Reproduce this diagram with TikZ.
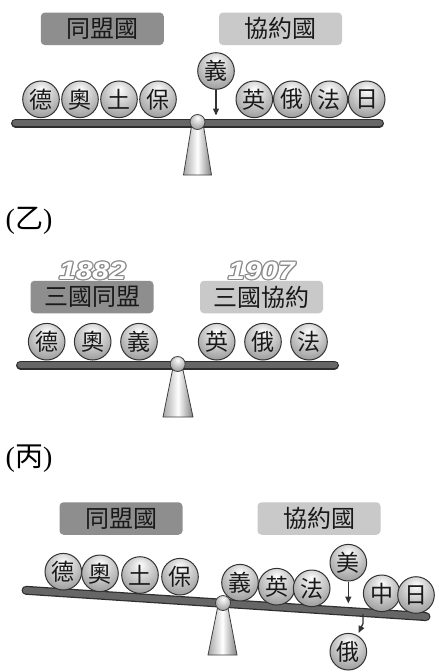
\documentclass[tikz,border=0pt]{standalone}
\usepackage{fontspec}
\usepackage{graphicx}
\setmainfont{Liberation Serif}
\newfontfamily\cjk{Noto Sans CJK TC}
\newfontfamily\yrfont{Liberation Sans}
\usetikzlibrary{arrows.meta,calc}
\pgfdeclareradialshading{ballshade}{\pgfpoint{0bp}{14bp}}{color(0bp)=(white); color(10bp)=(black!12); color(30bp)=(black!35); color(50bp)=(black!58); color(75bp)=(black!62)}
\definecolor{darkbox}{HTML}{8E8E8E}
\definecolor{lightbox}{HTML}{C9C9C9}
\definecolor{beamfill}{HTML}{666666}
\definecolor{beamline}{HTML}{2E2E2E}
\definecolor{outl}{HTML}{8A8A8A}
\tikzset{
  ball/.style={circle, minimum size=36.6pt, inner sep=0pt, draw=black!80, line width=1pt,
    shading=ballshade, font=\cjk\fontsize{23}{23}\selectfont, text=black!90},
  pivotball/.style={circle, minimum size=15pt, inner sep=0pt, draw=black!75, line width=0.8pt, shading=ballshade},
  standshape/.style={draw=black!75, line width=0.8pt, left color=black!35, right color=black!50, middle color=white},
  beamout/.style={line width=9pt, line cap=round, beamline},
  beamin/.style={line width=6.5pt, line cap=round, beamfill},
  tagbox/.style={rounded corners=4pt, minimum width=123pt, minimum height=32.5pt, inner sep=0pt,
    font=\cjk\fontsize{24}{24}\selectfont, text=black!90},
  tagdark/.style={tagbox, fill=darkbox},
  taglight/.style={tagbox, fill=lightbox},
  arr/.style={-{Triangle[length=7pt,width=6pt]}, line width=1.3pt, black!80},
  yr/.style={inner sep=0pt, font=\yrfont\bfseries\itshape\fontsize{25}{25}\selectfont},
  panellabel/.style={inner sep=0pt, font=\fontsize{28}{28}\selectfont}
}
\newcommand\cjkch[1]{{\cjk #1}}
\newcommand\yrstretch[1]{\scalebox{1.2}[1]{#1}}
\newcommand\oc[3]{\makebox[0pt]{\hspace*{#1}\raisebox{#2}{#3}}}
\newcommand\outlinetext[1]{%
  {\color{outl}%
  \oc{2.6pt}{0pt}{#1}\oc{-2.6pt}{0pt}{#1}\oc{0pt}{1.3pt}{#1}\oc{0pt}{-1.3pt}{#1}%
  \oc{1.8pt}{0.9pt}{#1}\oc{-1.8pt}{0.9pt}{#1}\oc{1.8pt}{-0.9pt}{#1}\oc{-1.8pt}{-0.9pt}{#1}}%
  \oc{0pt}{0pt}{\color{white}#1}}
\begin{document}
\begin{tikzpicture}[x=1pt,y=-1pt]
\useasboundingbox (0,0) rectangle (439,672);
\fill[white] (0,0) rectangle (439,672);

% ================= Panel 1 =================
\node[tagdark] (p1l) at (102.3,28.8) {同盟國};
\node[taglight] (p1r) at (280.5,28.8) {協約國};
\path[standshape] (191.5,126) -- (203.5,126) -- (211.5,175) -- (183.5,175) -- cycle;
\coordinate (b1a) at (15.5,123);
\coordinate (b1b) at (379.5,123);
\draw[beamout] (b1a) -- (b1b);
\draw[beamin] (b1a) -- (b1b);
\node[pivotball] (pv1) at (197.5,122) {};
\node[ball] (p1de) at (41,99.3) {德};
\node[ball] (p1ao) at (80,99.3) {奧};
\node[ball] (p1tu) at (119,99.3) {土};
\node[ball] (p1bao) at (158,99.3) {保};
\node[ball] (p1yi) at (216,71) {義};
\node[ball] (p1ying) at (254.3,99.3) {英};
\node[ball] (p1e) at (291.8,99.3) {俄};
\node[ball] (p1fa) at (329.3,99.3) {法};
\node[ball] (p1ri) at (366.7,99.3) {日};
\coordinate (t1) at (216,115.5);
\draw[arr] (p1yi.south) -- (t1);

% ================= Panel 2 =================
\node[panellabel] (lab2) at (29,220.5) {(\cjkch{乙})};
\node[tagdark] (p2l) at (92,297) {三國同盟};
\node[taglight] (p2r) at (261.5,297) {三國協約};
\node[yr] (yr1) at (92.5,271) {\outlinetext{\yrstretch{1882}}};
\node[yr] (yr2) at (261.5,271) {\outlinetext{\yrstretch{1907}}};
\path[standshape] (172.5,370) -- (183,370) -- (193,417) -- (163,417) -- cycle;
\coordinate (b2a) at (20.5,365);
\coordinate (b2b) at (334.5,365);
\draw[beamout] (b2a) -- (b2b);
\draw[beamin] (b2a) -- (b2b);
\node[pivotball] (pv2) at (177.7,364) {};
\node[ball] (p2de) at (46.7,341.7) {德};
\node[ball] (p2ao) at (92.7,341.7) {奧};
\node[ball] (p2yi) at (139,341.7) {義};
\node[ball] (p2ying) at (216.7,341.7) {英};
\node[ball] (p2e) at (263,341.7) {俄};
\node[ball] (p2fa) at (309,341.7) {法};

% ================= Panel 3 =================
\node[panellabel] (lab3) at (29,459) {(\cjkch{丙})};
\node[tagdark] (p3l) at (121,518.5) {同盟國};
\node[taglight] (p3r) at (319,518.5) {協約國};
\path[standshape] (217.5,608) -- (228,608) -- (237,655) -- (208,655) -- cycle;
\coordinate (b3a) at (26,590.3);
\coordinate (b3b) at (426,616.6);
\draw[beamout] (b3a) -- (b3b);
\draw[beamin] (b3a) -- (b3b);
\node[pivotball] (pv3) at (223,603) {};
\node[ball] (p3de) at (63.3,571.7) {德};
\node[ball] (p3ao) at (100,573.3) {奧};
\node[ball] (p3tu) at (140,575) {土};
\node[ball] (p3bao) at (180,576.7) {保};
\node[ball] (p3yi) at (240,582.7) {義};
\node[ball] (p3ying) at (276.7,586.7) {英};
\node[ball] (p3fa) at (311.7,588.3) {法};
\node[ball] (p3mei) at (348.3,562.7) {美};
\node[ball] (p3zh) at (381.7,593.3) {中};
\node[ball] (p3ri) at (416,595) {日};
\node[ball] (p3e) at (348.3,651.7) {俄};
\coordinate (t3) at (348.3,603.5);
\draw[arr] (p3mei.south) -- (t3);
\coordinate (e0) at (363,614);
\coordinate (e1) at (363,623.5);
\coordinate (e2) at (358.5,633);
\draw[arr] (e0) -- (e1) -- (e2);
\end{tikzpicture}
\end{document}
